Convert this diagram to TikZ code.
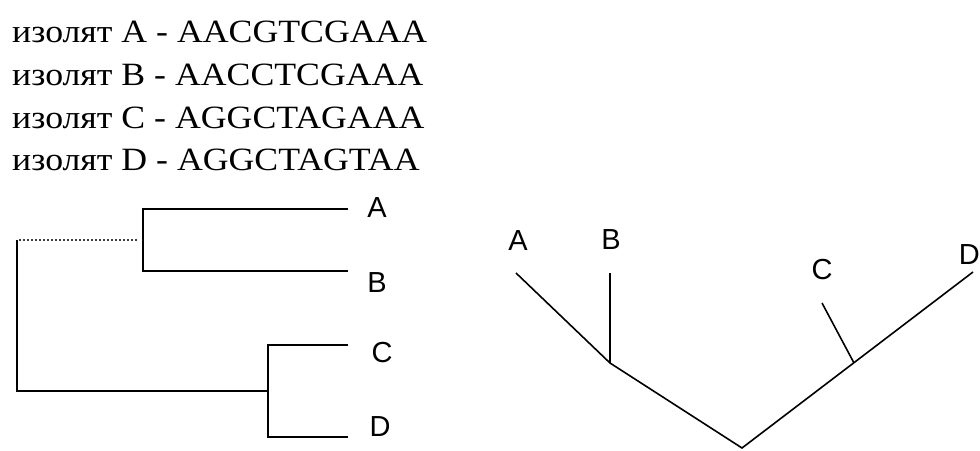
\documentclass[tikz,border=0pt]{standalone}
\usepackage{fontspec}
\setmainfont{Liberation Serif}[FakeStretch=1.1]
\newfontfamily\leaffont{Liberation Sans}
\begin{document}
\begin{tikzpicture}[x=1pt,y=-1pt,
  seq/.style={anchor=base west,inner sep=0pt,font=\fontsize{32.5}{32.5}\selectfont},
  leaf/.style={inner sep=0pt,font=\leaffont\fontsize{29}{29}\selectfont},
  branch/.style={line width=1.6pt},
  outgroup/.style={line width=1.1pt,black!75,dash pattern=on 2.5pt off 1.5pt}]
\useasboundingbox (0,0) rectangle (980,450);
\foreach \n/\s/\y in {A/AACGTCGAAA/42,B/AACCTCGAAA/85,C/AGGCTAGAAA/128,D/AGGCTAGTAA/170} {
\node[seq] (iso\n) at (12,\y) {изолят \n\ - \s};
}
% left tree
\coordinate (lA) at (348,209);
\coordinate (lB) at (348,271);
\coordinate (lC) at (348,345);
\coordinate (lD) at (348,437);
\coordinate (ab) at (143,240);
\coordinate (abstem) at (137,240);
\coordinate (rtop) at (17,240);
\coordinate (cd) at (268,391);
\draw[branch] (lA) -| (ab) |- (lB);
\draw[branch] (lC) -| (cd) |- (lD);
\draw[outgroup] (abstem) -- (rtop);
\draw[branch] (rtop) |- (cd);
\node[leaf] (tA) at (377,208) {A};
\node[leaf] (tB) at (377,283) {B};
\node[leaf] (tC) at (382,353) {C};
\node[leaf] (tD) at (380,427) {D};
% right tree
\coordinate (rootR) at (742,448);
\coordinate (abR) at (610,363);
\coordinate (cR) at (854,363);
\coordinate (rA) at (516,273);
\coordinate (rB) at (610,273);
\coordinate (rC) at (822,303);
\coordinate (rD) at (973,272);
\draw[branch] (rA) -- (abR) -- (rootR) -- (rD);
\draw[branch] (abR) -- (rB);
\draw[branch] (cR) -- (rC);
\node[leaf] (uA) at (518,241) {A};
\node[leaf] (uB) at (611,240) {B};
\node[leaf] (uC) at (822,270) {C};
\node[leaf,anchor=east] (uD) at (980,255) {D};
\end{tikzpicture}
\end{document}
